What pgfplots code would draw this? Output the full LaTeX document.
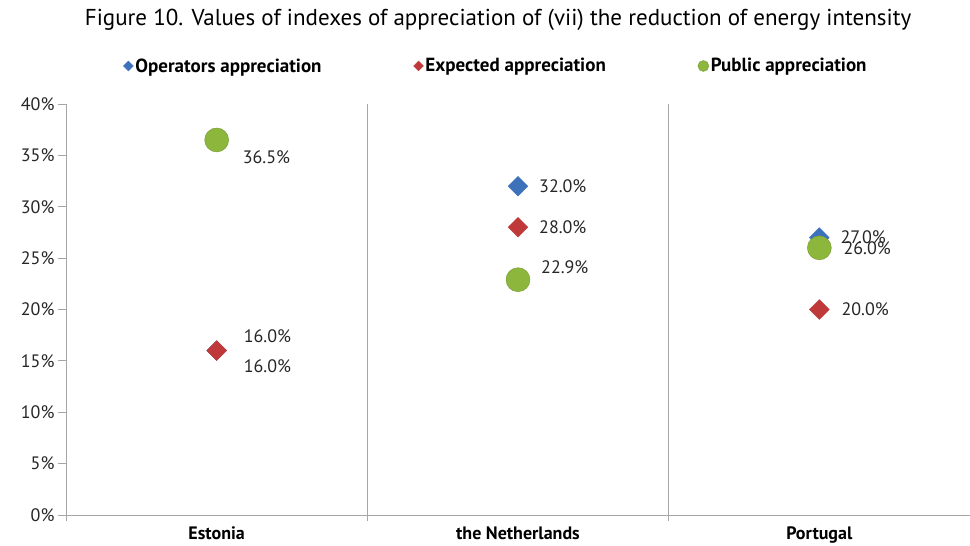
\documentclass[border=0pt]{standalone}
\usepackage{pgfplots}
\pgfplotsset{compat=1.18}
\usepackage{pgfplotstable}
\usepackage{fontspec}
\setmainfont{PT Sans}
\definecolor{opblue}{RGB}{61,114,187}
\definecolor{exred}{RGB}{192,57,58}
\definecolor{pubgreen}{RGB}{141,182,60}
\definecolor{axgray}{RGB}{166,166,166}
\definecolor{txt}{RGB}{38,38,38}

% x = category (0 Estonia, 1 the Netherlands, 2 Portugal), y in %, dx/dy = label offset
\pgfplotstableread{
x y dx dy
0 16.0 27 14
1 32.0 21 0
2 27.0 21 0
}\operators
\pgfplotstableread{
x y dx dy
0 16.0 27 -16
1 28.0 21 0
2 20.0 22 0
}\expected
\pgfplotstableread{
x y dx dy
0 36.5 26 -17
1 22.9 23 13
2 26.0 24 0
}\public

\begin{document}
\begin{tikzpicture}
\path[use as bounding box] (-66pt,-31pt) rectangle (904pt,515pt);
\begin{axis}[
  scale only axis, width=904pt, height=411pt,
  xmin=-0.5, xmax=2.5, ymin=0, ymax=40,
  clip=false,
  axis x line*=bottom, axis y line*=left,
  axis line style={axgray, line width=0.8pt},
  tick align=outside,
  xtick={0,1,2},
  xticklabels={Estonia, the Netherlands, Portugal},
  major x tick style={draw=none},
  minor xtick={-0.5,0.5,1.5},
  xminorgrids,
  minor grid style={axgray, line width=0.8pt},
  minor x tick style={axgray, line width=0.8pt},
  minor tick length=6pt,
  major tick length=8pt,
  ytick={0,5,10,15,20,25,30,35,40},
  yticklabels={0\%,5\%,10\%,15\%,20\%,25\%,30\%,35\%,40\%},
  y tick style={axgray, line width=0.8pt},
  xticklabel style={font=\bfseries\fontsize{18}{20}\selectfont, text=black},
  yticklabel style={font=\fontsize{18}{20}\selectfont, text=txt},
  /pgf/number format/assume math mode=true,
  title={Figure 10. Values of indexes of appreciation of (vii) the reduction of energy intensity},
  title style={at={(0.478,1.19)}, anchor=center, font=\fontsize{23}{27}\selectfont, text=black},
  legend columns=3,
  legend style={draw=none, fill=none, at={(0.4757,1.0925)}, anchor=center,
    font=\bfseries\fontsize{19}{21}\selectfont, text=black,
    nodes={inner sep=2pt},
    /tikz/every even column/.append style={column sep=90pt}},
  legend image code/.code={\draw[#1] plot coordinates {(0pt,0pt)};},
  visualization depends on={\thisrow{dx}\as\dx},
  visualization depends on={\thisrow{dy}\as\dy},
  nodes near coords={\pgfmathprintnumber[fixed,fixed zerofill,precision=1]{\pgfplotspointmeta}\%},
  nodes near coords style={anchor=west, inner sep=0pt, xshift=\dx pt, yshift=\dy pt,
    font=\fontsize{18}{20}\selectfont, text=txt},
]
\addplot[only marks, mark=square*, mark size=7pt, mark options={rotate=45, fill=opblue, draw=opblue},
  legend image post style={mark size=3.5pt}] table[x=x, y=y] {\operators};
\addlegendentry{Operators appreciation}
\addplot[only marks, mark=square*, mark size=7pt, mark options={rotate=45, fill=exred, draw=exred},
  legend image post style={mark size=3.5pt}] table[x=x, y=y] {\expected};
\addlegendentry{Expected appreciation}
\addplot[only marks, mark=*, mark size=12pt, mark options={fill=pubgreen, draw=pubgreen!85!black},
  legend image post style={mark size=5.5pt}] table[x=x, y=y] {\public};
\addlegendentry{Public appreciation}
\end{axis}
\end{tikzpicture}
\end{document}
